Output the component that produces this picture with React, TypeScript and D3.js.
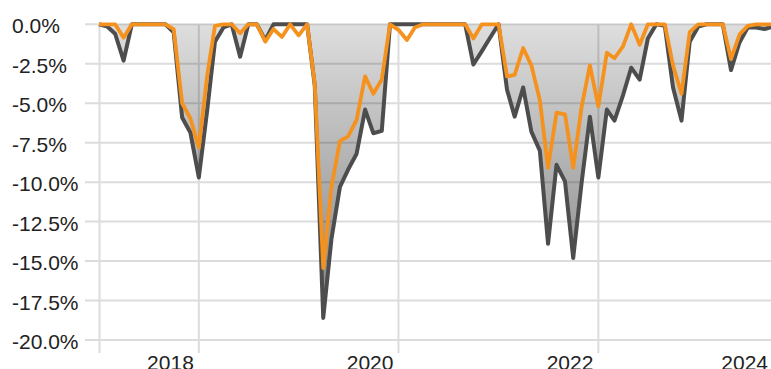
import React from 'react';
import * as d3 from 'd3';

// monthly drawdowns (%) from Jan 2017
const startMonth = new Date(2017, 0, 1);

const benchmarkDD = [
  0, -0.15, -0.6, -2.3, 0, 0, 0, 0, 0, -0.5, -5.9, -6.85,
  -9.7, -5.4, -1.1, -0.2, 0, -2.05, 0, 0, -1.0, 0, 0, 0,
  0, 0, -3.9, -18.6, -13.6, -10.3, -9.2, -8.2, -5.4, -6.9, -6.75, 0,
  0, 0, 0, 0, 0, 0, 0, 0, 0, -2.55, -1.7, -0.85,
  0, -4.15, -5.85, -4.0, -6.8, -8.0, -13.9, -8.9, -9.95, -14.8, -10.0, -5.85,
  -9.7, -5.4, -6.1, -4.5, -2.75, -3.5, -0.9, 0, -0.1, -4.0, -6.1, -1.1,
  -0.15, 0, 0, 0, -2.9, -1.15, -0.2, -0.2, -0.3, -0.15,
];

const portfolioDD = [
  0, 0, 0, -0.85, 0, 0, 0, 0, 0, -0.3, -5.0, -5.95,
  -7.8, -3.2, -0.1, 0, 0, -0.57, 0, 0, -1.1, -0.3, -0.8, 0,
  -0.7, 0, -3.8, -15.45, -10.3, -7.4, -7.1, -6.05, -3.3, -4.4, -3.5, 0,
  -0.35, -1.0, -0.2, 0, 0, 0, 0, 0, 0, -0.9, 0, 0,
  0, -3.3, -3.2, -1.5, -2.6, -4.8, -9.1, -5.6, -5.7, -9.1, -5.2, -2.6,
  -5.2, -1.8, -2.15, -1.4, 0, -1.3, 0, 0, 0, -2.6, -4.4, -0.5,
  0, 0, 0, 0, -2.2, -0.65, -0.1, 0, 0, 0,
];

const yTicks = [0, -2.5, -5, -7.5, -10, -12.5, -15, -17.5, -20];
const xTickYears = [2018, 2020, 2022, 2024];

const W = 771;
const H = 369;

export default function App() {
  const x = d3.scaleTime()
    .domain([new Date(2017, 0, 1), new Date(2024, 0, 1)])
    .range([99, 798]);
  const y = d3.scaleLinear().domain([-20, 0]).range([340, 24.3]);

  const bench = benchmarkDD.map((v, i) => ({ date: d3.timeMonth.offset(startMonth, i), v }));
  const port = portfolioDD.map((v, i) => ({ date: d3.timeMonth.offset(startMonth, i), v }));

  const line = d3.line<{ date: Date; v: number }>()
    .x(d => x(d.date))
    .y(d => y(d.v));
  const area = d3.area<{ date: Date; v: number }>()
    .x(d => x(d.date))
    .y0(y(0))
    .y1(d => y(d.v));

  const plotLeft = 99.5;
  const font = '"Liberation Sans", Arial, sans-serif';

  return (
    <svg width={W} height={H} style={{ position: 'absolute', left: 0, top: 0 }} fontFamily={font}>
      <defs>
        <linearGradient id="ddfill" gradientUnits="userSpaceOnUse" x1="0" x2="0" y1={y(0)} y2={y(-20)}>
          <stop offset="0%" stopColor="#000" stopOpacity={0.13} />
          <stop offset="100%" stopColor="#000" stopOpacity={0.52} />
        </linearGradient>
      </defs>

      {/* grid */}
      {yTicks.map(t => (
        <line key={'h' + t} x1={85} x2={W} y1={y(t)} y2={y(t)} stroke="#dcdcdc" strokeWidth={2} />
      ))}
      <line x1={plotLeft} x2={plotLeft} y1={y(0)} y2={353} stroke="#dcdcdc" strokeWidth={2} />
      {xTickYears.map(yr => {
        const xx = x(new Date(yr, 0, 1));
        return <line key={'v' + yr} x1={xx} x2={xx} y1={y(0)} y2={353} stroke="#dcdcdc" strokeWidth={2} />;
      })}

      <path d={area(bench) || ''} fill="url(#ddfill)" />
      <path d={line(bench) || ''} fill="none" stroke="#4d4d4d" strokeWidth={4} strokeLinejoin="round" />
      <path d={line(port) || ''} fill="none" stroke="#f5921e" strokeWidth={3.8} strokeLinejoin="round" />

      {yTicks.map(t => (
        <text key={'yl' + t} x={12} y={y(t) + 9} fontSize={21} fill="#222">
          {t.toFixed(1) + '%'}
        </text>
      ))}
      {xTickYears.map(yr => {
        const xx = Math.min(x(new Date(yr, 0, 1)) - 5, 768);
        return (
          <text key={'xl' + yr} x={xx} y={370} fontSize={21} fill="#222" textAnchor="end">
            {yr}
          </text>
        );
      })}
    </svg>
  );
}
